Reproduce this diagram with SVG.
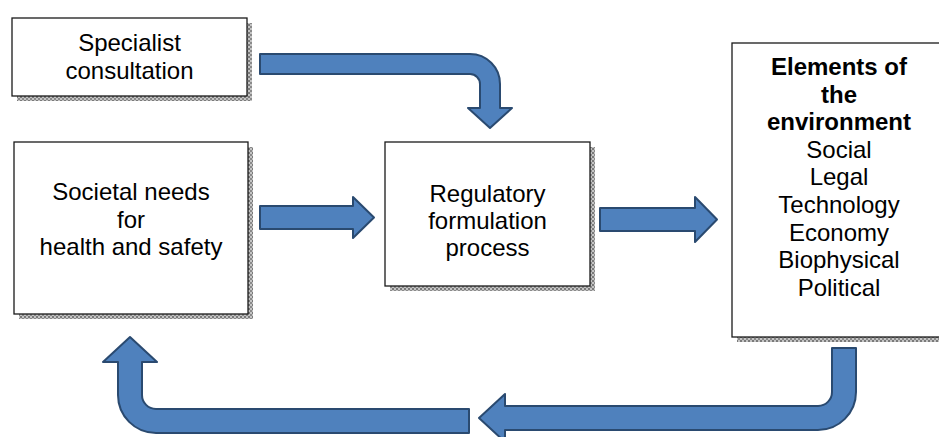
<svg xmlns="http://www.w3.org/2000/svg" width="939" height="437" viewBox="0 0 939 437">
<defs>
<pattern id="hatch" width="4" height="4" patternUnits="userSpaceOnUse">
<rect width="4" height="4" fill="#c4c4c4"/>
<rect width="2" height="2" fill="#7a7a7a"/>
<rect x="2" y="2" width="2" height="2" fill="#8a8a8a"/>
</pattern>
</defs>
<style>
.box{fill:#ffffff;stroke:#1a1a1a;stroke-width:1.3}
.shadow{fill:url(#hatch)}
.t{font-family:"Liberation Sans",Arial,sans-serif;font-size:24px;fill:#000;text-anchor:middle}
.b{font-weight:bold}
.arrow{fill:#4f81bd;stroke:#2a4a70;stroke-width:2;stroke-linejoin:round}
</style>
<rect width="939" height="437" fill="#ffffff"/>
<g id="specialist">
<rect class="shadow" x="17" y="23" width="235" height="78"/>
<rect class="box" x="12" y="18" width="235" height="78"/>
<text class="t" x="129.5" y="51">Specialist</text>
<text class="t" x="129.5" y="79">consultation</text>
</g>
<g id="societal">
<rect class="shadow" x="19" y="147" width="234" height="172"/>
<rect class="box" x="14" y="142" width="234" height="172"/>
<text class="t" x="131" y="200">Societal needs</text>
<text class="t" x="131" y="227.6">for</text>
<text class="t" x="131" y="255">health and safety</text>
</g>
<g id="regulatory">
<rect class="shadow" x="390" y="147" width="205" height="144"/>
<rect class="box" x="385" y="142" width="205" height="144"/>
<text class="t" x="487.5" y="202">Regulatory</text>
<text class="t" x="487.5" y="229">formulation</text>
<text class="t" x="487.5" y="256">process</text>
</g>
<g id="elements">
<rect class="shadow" x="737" y="48" width="214" height="294"/>
<rect class="box" x="732" y="43" width="214" height="294"/>
<text class="t b" x="839" y="75">Elements of</text>
<text class="t b" x="839" y="102.6">the</text>
<text class="t b" x="839" y="130.2">environment</text>
<text class="t" x="839" y="157.8">Social</text>
<text class="t" x="839" y="185.4">Legal</text>
<text class="t" x="839" y="213">Technology</text>
<text class="t" x="839" y="240.6">Economy</text>
<text class="t" x="839" y="268.2">Biophysical</text>
<text class="t" x="839" y="295.8">Political</text>
</g>
<g id="connectors">
<path class="arrow" d="M260,54 H470 A30,30 0 0 1 500,84 V108 H512 L490,128 L468,108 H480 V84 A10,10 0 0 0 470,74 H260 Z"/>
<path class="arrow" d="M260,206 H353 V197 L374,217.5 L353,238 V229 H260 Z"/>
<path class="arrow" d="M600,208 H695 V197 L717,219.5 L695,242 V231 H600 Z"/>
<path class="arrow" d="M832,348 H856 V392 A38,38 0 0 1 818,430 H505 V442 L479,418 L505,394 V406 H818 A14,14 0 0 0 832,392 Z"/>
<path class="arrow" d="M469,409 V433 H156 A38,38 0 0 1 118,395 V362 H103 L130,337 L157,362 H142 V395 A14,14 0 0 0 156,409 Z"/>
</g>
</svg>
